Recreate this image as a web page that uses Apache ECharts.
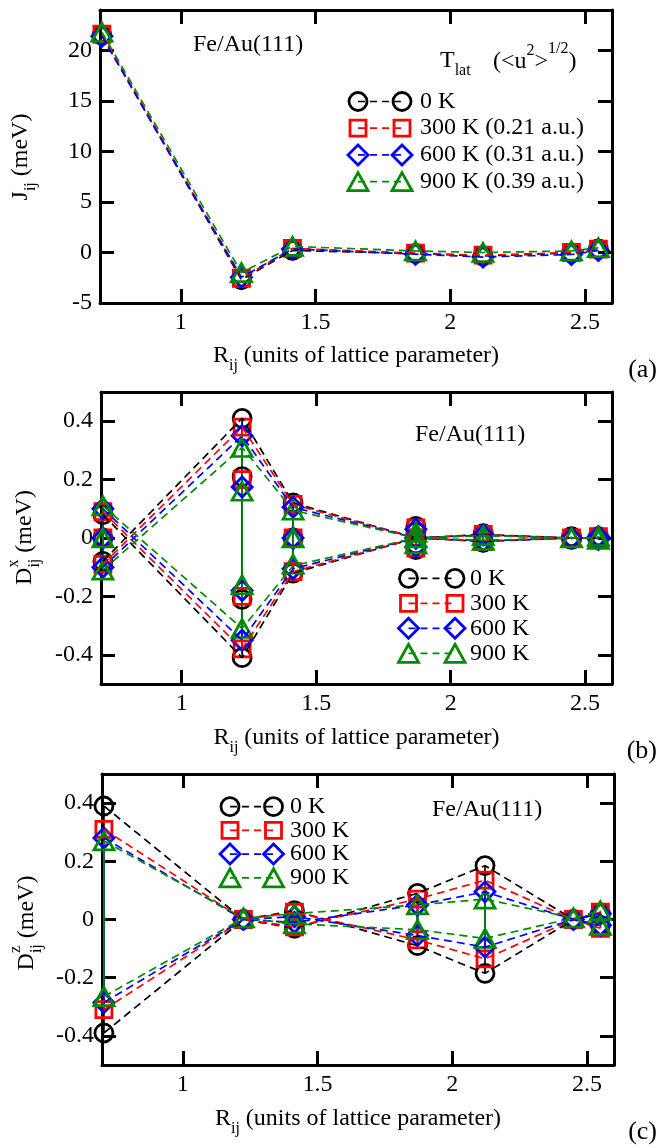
<!DOCTYPE html>
<html>
<head>
<meta charset="utf-8">
<script src="https://cdn.jsdelivr.net/npm/echarts@6/dist/echarts.min.js"></script>
<style>
  html, body { margin: 0; padding: 0; background: #fff; }
  #chart { width: 657px; height: 1148px; }
</style>
</head>
<body>
<div id="chart"></div>
<script>
// Neighbour-shell distances R_ij (units of the lattice parameter)
const shellR = [0.7071, 1.2247, 1.4142, 1.8708, 2.1213, 2.4495, 2.5495];

const temps = ['0 K', '300 K', '600 K', '900 K'];
const rmsDisp = ['', ' (0.21 a.u.)', ' (0.31 a.u.)', ' (0.39 a.u.)'];
const colors = ['#000000', '#ff0000', '#0000ff', '#008b00'];
const symbols = ['circle', 'rect', 'diamond', 'triangle'];

const xTicks = [1, 1.5, 2, 2.5];
const jTicks = [-5, 0, 5, 10, 15, 20];
const dTicks = [-0.4, -0.2, 0, 0.2, 0.4];

// (a) exchange J_ij (meV), one value per shell
const J_0K   = [21.5, -2.7, 0.2, -0.1, -0.35, -0.05, 0.35];
const J_300K = [21.6, -2.55, 0.4, -0.07, -0.27, 0.0, 0.33];
const J_600K = [21.4, -2.45, 0.35, -0.17, -0.45, -0.2, 0.2];
const J_900K = [21.8, -2.0, 0.6, 0.15, 0.0, 0.15, 0.47];

// (b) D^x_ij (meV): all pair values per shell
const Dx_0K   = [[0.08, 0, -0.08], [0.41, 0.21, -0.21, -0.41], [0.12, 0, -0.12], [0.04, 0.02, 0, -0.02, -0.04], [0.015, -0.015], [0.005, -0.005], [0.005, -0.005]];
const Dx_300K = [[0.09, 0, -0.09], [0.38, 0.2, -0.2, -0.38], [0.115, 0, -0.115], [0.035, 0, -0.035], [0.012, -0.012], [0], [0.005, -0.005]];
const Dx_600K = [[0.1, 0, -0.1], [0.35, 0.175, -0.18, -0.35], [0.105, 0, -0.105], [0.03, 0, -0.03], [0.01, -0.01], [0], [0.005, -0.005]];
const Dx_900K = [[0.11, 0, -0.11], [0.31, 0.16, -0.16, -0.31], [0.095, 0, -0.09], [0.02, 0, -0.02], [0.008, -0.008], [0], [0.005, -0.005]];
// (b) the two connected branches through the shells
const DxA_0K   = [0.08, -0.41, -0.12, 0, -0.012, 0, 0];
const DxB_0K   = [-0.08, 0.41, 0.12, 0, 0.012, 0, 0];
const DxA_300K = [0.09, -0.38, -0.115, 0, -0.01, 0, 0];
const DxB_300K = [-0.09, 0.38, 0.115, 0, 0.01, 0, 0];
const DxA_600K = [0.1, -0.35, -0.105, 0, -0.01, 0, 0];
const DxB_600K = [-0.1, 0.35, 0.105, 0, 0.01, 0, 0];
const DxA_900K = [0.11, -0.31, -0.095, 0, -0.008, 0, 0];
const DxB_900K = [-0.11, 0.31, 0.095, 0, 0.008, 0, 0];

// (c) D^z_ij (meV): all pair values per shell
const Dz_0K   = [[0.39, -0.39], [0], [0.03, -0.03], [0.09, -0.09], [0.185, -0.185], [0], [0.02, -0.02]];
const Dz_300K = [[0.31, -0.31], [0], [0.025, -0.025], [0.07, -0.07], [0.135, -0.135], [0], [0.025, -0.03]];
const Dz_600K = [[0.28, -0.285], [0], [0.01, -0.01], [0.05, -0.055], [0.095, -0.095], [0], [0.02, -0.02]];
const Dz_900K = [[0.27, -0.265], [0.005], [0.02, -0.015], [0.05, -0.035], [0.07, -0.065], [0.005], [0.03, -0.02]];
// (c) the two connected branches through the shells
const DzA_0K   = [0.39, 0, 0.03, -0.09, -0.185, 0, -0.02];
const DzB_0K   = [-0.39, 0, -0.03, 0.09, 0.185, 0, 0.02];
const DzA_300K = [0.31, 0, 0.025, -0.07, -0.135, 0, -0.03];
const DzB_300K = [-0.31, 0, -0.025, 0.07, 0.135, 0, 0.025];
const DzA_600K = [0.28, 0, 0.01, -0.055, -0.095, 0, -0.02];
const DzB_600K = [-0.285, 0, -0.01, 0.05, 0.095, 0, 0.02];
const DzA_900K = [0.27, 0.005, 0.02, 0.05, 0.07, 0.005, 0.03];
const DzB_900K = [-0.265, 0.005, -0.015, -0.035, -0.065, 0.005, -0.02];

const FONT = '"Liberation Serif", "Times New Roman", serif';
const LINE_DASH = [8, 5];

const panels = [
  { grid: { left: 100, top: 10, width: 512, height: 293 }, yMin: -5, yMax: 24, yTicks: jTicks,
    paths: [[J_0K], [J_300K], [J_600K], [J_900K]],
    points: [J_0K, J_300K, J_600K, J_900K].map(a => a.map(v => [v])) },
  { grid: { left: 101, top: 392, width: 511, height: 292 }, yMin: -0.5, yMax: 0.5, yTicks: dTicks,
    paths: [[DxA_0K, DxB_0K], [DxA_300K, DxB_300K], [DxA_600K, DxB_600K], [DxA_900K, DxB_900K]],
    points: [Dx_0K, Dx_300K, Dx_600K, Dx_900K] },
  { grid: { left: 102, top: 774, width: 512, height: 291 }, yMin: -0.5, yMax: 0.5, yTicks: dTicks,
    paths: [[DzA_0K, DzB_0K], [DzA_300K, DzB_300K], [DzA_600K, DzB_600K], [DzA_900K, DzB_900K]],
    points: [Dz_0K, Dz_300K, Dz_600K, Dz_900K] }
];

const symbolSizes = { circle: 18, rect: 16, diamond: 20, triangle: [20, 18] };
const MARK_W = 2.8;

const grids = [], xAxes = [], yAxes = [], series = [];

function axisCommon(ticks, showLabel) {
  return {
    axisLine: { onZero: false, lineStyle: { color: '#000', width: 3 } },
    axisTick: { inside: true, length: 14, customValues: ticks, lineStyle: { color: '#000', width: 3 } },
    axisLabel: showLabel
      ? { customValues: ticks, fontFamily: FONT, fontSize: 24, color: '#000', margin: 8 }
      : { show: false },
    splitLine: { show: false },
    minorTick: { show: false }
  };
}

panels.forEach((p, gi) => {
  grids.push(Object.assign({ containLabel: false, outerBoundsMode: 'none' }, p.grid));
  xAxes.push(Object.assign({ type: 'value', gridIndex: gi, position: 'bottom', min: 0.7, max: 2.6 }, axisCommon(xTicks, true)));
  xAxes.push(Object.assign({ type: 'value', gridIndex: gi, position: 'top', min: 0.7, max: 2.6 }, axisCommon(xTicks, false)));
  yAxes.push(Object.assign({ type: 'value', gridIndex: gi, position: 'left', min: p.yMin, max: p.yMax }, axisCommon(p.yTicks, true)));
  yAxes.push(Object.assign({ type: 'value', gridIndex: gi, position: 'right', min: p.yMin, max: p.yMax }, axisCommon(p.yTicks, false)));
  const xi = gi * 2, yi = gi * 2;

  for (let t = 0; t < 4; t++) {
    const col = colors[t];
    // dashed connecting branches
    p.paths[t].forEach(path => {
      series.push({
        type: 'line', xAxisIndex: xi, yAxisIndex: yi, silent: true, animation: false,
        symbol: 'none', showSymbol: false,
        lineStyle: { color: col, width: 1.7, type: LINE_DASH },
        data: shellR.map((r, k) => [r, path[k]])
      });
    });
    // vertical segments joining the values inside one shell
    const spans = [];
    p.points[t].forEach((vals, k) => {
      const lo = Math.min.apply(null, vals), hi = Math.max.apply(null, vals);
      if (hi > lo) spans.push([shellR[k], lo, hi]);
    });
    if (spans.length) {
      series.push({
        type: 'custom', xAxisIndex: xi, yAxisIndex: yi, silent: true, animation: false,
        encode: { x: 0, y: [1, 2] },
        data: spans,
        renderItem: (params, api) => {
          const a = api.coord([api.value(0), api.value(1)]);
          const b = api.coord([api.value(0), api.value(2)]);
          return { type: 'line', shape: { x1: a[0], y1: a[1], x2: b[0], y2: b[1] },
                   style: { stroke: col, lineWidth: 1.7 } };
        }
      });
    }
    // hollow markers
    const pts = [];
    p.points[t].forEach((vals, k) => vals.forEach(v => pts.push([shellR[k], v])));
    series.push({
      type: 'scatter', xAxisIndex: xi, yAxisIndex: yi, silent: true, animation: false,
      symbol: symbols[t], symbolSize: symbolSizes[symbols[t]],
      itemStyle: { color: 'rgba(0,0,0,0)', borderColor: col, borderWidth: MARK_W, opacity: 1 },
      emphasis: { disabled: true },
      data: pts
    });
  }
});

// ---- text helpers (sub/superscripts laid out with measured widths) ----
const mctx = document.createElement('canvas').getContext('2d');
function textWidth(t, size) { mctx.font = size + 'px ' + FONT; return mctx.measureText(t).width; }
function txt(t, x, y, size, extra) {
  return Object.assign({ type: 'text', x: x, y: y,
    style: { text: t, fontSize: size, fontFamily: FONT, fill: '#000', align: 'left', verticalAlign: 'middle' } }, extra || {});
}
// runs: items {t,s,dy} or {stack:[{t,s,dy},...]}
function richRun(runs, x, y, opts) {
  opts = opts || {};
  const kids = [];
  let cx = 0;
  runs.forEach(r => {
    if (r.stack) {
      let w = 0;
      r.stack.forEach(s => { kids.push(txt(s.t, cx, s.dy || 0, s.s)); w = Math.max(w, textWidth(s.t, s.s)); });
      cx += w;
    } else {
      kids.push(txt(r.t, cx + (r.dx || 0), r.dy || 0, r.s));
      cx += textWidth(r.t, r.s) + (r.dx || 0);
    }
  });
  if (opts.center) kids.forEach(k => { k.x -= cx / 2; });
  return { type: 'group', x: x, y: y, rotation: opts.rotation || 0, children: kids };
}

const M = 24, S = 16;
function xTitle(cx, cy) {
  return richRun([{ t: 'R', s: M }, { t: 'ij', s: S, dy: 10 }, { t: ' (units of lattice parameter)', s: M }], cx, cy, { center: true });
}

function legend(x1, x2, tx, y0, dy, labels) {
  const els = [];
  for (let i = 0; i < 4; i++) {
    const y = y0 + dy * i;
    const st = { fill: 'none', stroke: colors[i], lineWidth: MARK_W };
    els.push({ type: 'line', shape: { x1: x1, y1: y, x2: x2, y2: y }, style: { stroke: colors[i], lineWidth: 1.7, lineDash: [7, 5] } });
    [x1, x2].forEach(x => {
      let m;
      if (symbols[i] === 'circle') m = { type: 'circle', shape: { cx: x, cy: y, r: 9 }, style: st };
      else if (symbols[i] === 'rect') m = { type: 'rect', shape: { x: x - 8, y: y - 8, width: 16, height: 16 }, style: st };
      else if (symbols[i] === 'diamond') m = { type: 'polygon', shape: { points: [[x, y - 10], [x + 10, y], [x, y + 10], [x - 10, y]] }, style: st };
      else m = { type: 'polygon', shape: { points: [[x, y - 9], [x + 10, y + 9], [x - 10, y + 9]] }, style: st };
      els.push(m);
    });
    els.push(txt(labels[i], tx, y, M));
  }
  return els;
}

const graphics = [];
// axis titles
graphics.push(xTitle(356, 356), xTitle(356.5, 737.5), xTitle(358, 1119));
graphics.push(richRun([{ t: 'J', s: M }, { t: 'ij', s: S, dy: 10 }, { t: ' (meV)', s: M }], 21, 157, { center: true, rotation: Math.PI / 2 }));
graphics.push(richRun([{ t: 'D', s: M }, { stack: [{ t: 'x', s: S, dy: -11 }, { t: 'ij', s: S, dy: 10 }] }, { t: ' (meV)', s: M }], 25, 537.5, { center: true, rotation: Math.PI / 2 }));
graphics.push(richRun([{ t: 'D', s: M }, { stack: [{ t: 'z', s: S, dy: -11 }, { t: 'ij', s: S, dy: 10 }] }, { t: ' (meV)', s: M }], 27, 923, { center: true, rotation: Math.PI / 2 }));
// panel tags
graphics.push(txt('(a)', 657, 370, 26, {}), txt('(b)', 657, 751, 26, {}), txt('(c)', 657, 1132, 26, {}));
graphics.slice(-3).forEach(g => { g.style.align = 'right'; });
// system labels
graphics.push(txt('Fe/Au(111)', 193, 45, M), txt('Fe/Au(111)', 415, 435, M), txt('Fe/Au(111)', 432, 810, M));
// lattice temperature / rms displacement header
graphics.push(richRun([{ t: 'T', s: M }, { t: 'lat', s: S, dy: 10 }], 440, 61));
graphics.push(richRun([{ t: '(<u', s: M }, { t: '2', s: S, dy: -11 }, { t: '>', s: M }, { t: '1/2', s: S, dy: -13 }, { t: ')', s: M }], 493, 62));
// legends
legend(358, 402, 420, 101.5, 26.7, temps.map((t, i) => t + rmsDisp[i])).forEach(e => graphics.push(e));
legend(408.5, 455, 470, 578.3, 25, temps).forEach(e => graphics.push(e));
legend(230, 273.5, 290, 806.7, 23.7, temps).forEach(e => graphics.push(e));

const chart = echarts.init(document.getElementById('chart'), null, { renderer: 'canvas' });
chart.setOption({
  animation: false,
  backgroundColor: '#ffffff',
  grid: grids,
  xAxis: xAxes,
  yAxis: yAxes,
  series: series,
  graphic: { elements: graphics }
});
</script>
</body>
</html>
